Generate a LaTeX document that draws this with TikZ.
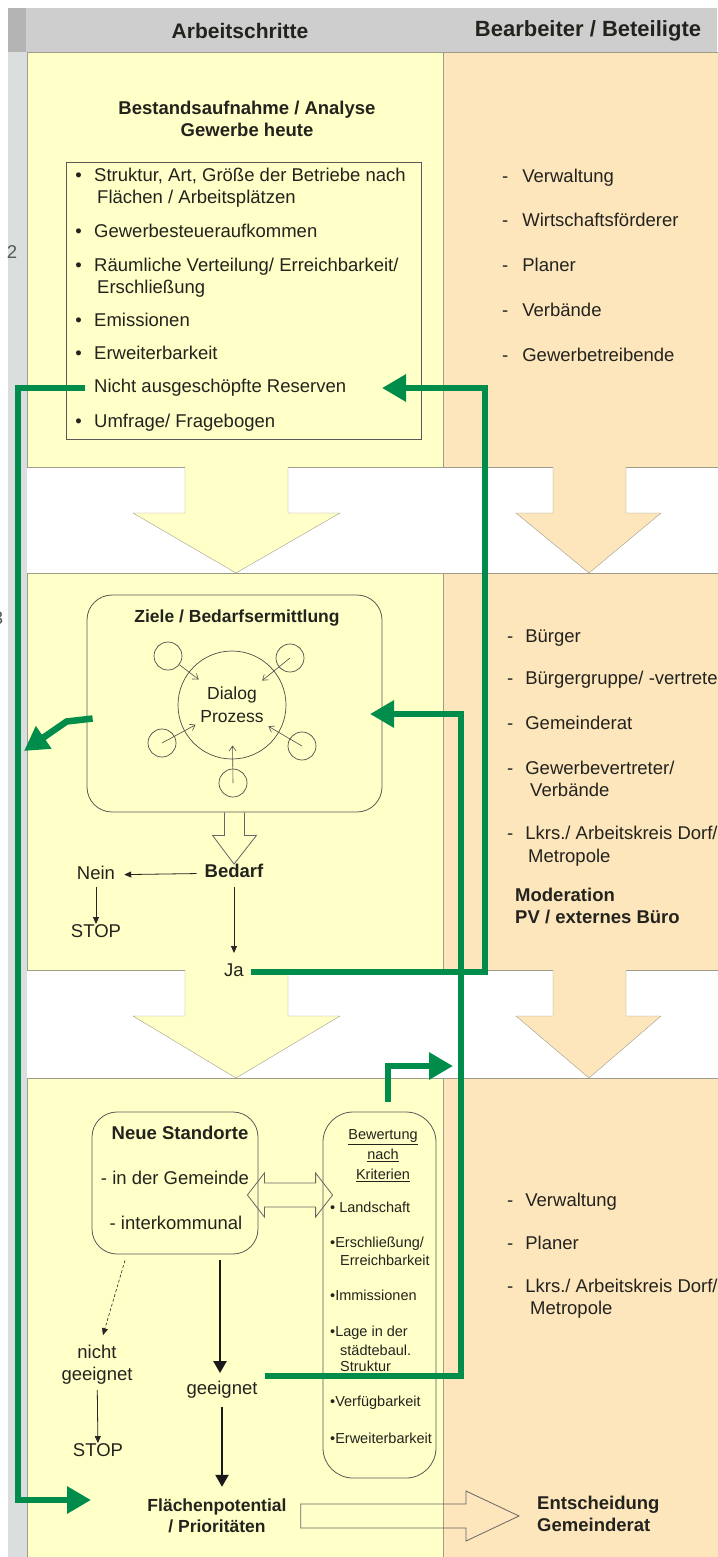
\documentclass[tikz,border=0pt]{standalone}
\usepackage{fontspec}
\setmainfont{Liberation Sans}
\usetikzlibrary{arrows.meta,calc}

\definecolor{gelb}{RGB}{255,255,200}
\definecolor{beige}{RGB}{253,229,188}
\definecolor{kopf}{RGB}{206,206,206}
\definecolor{kopfdunkel}{RGB}{180,180,180}
\definecolor{rand}{RGB}{218,222,222}
\definecolor{linie}{RGB}{160,156,140}
\definecolor{gruen}{RGB}{0,140,75}
\definecolor{schrift}{RGB}{35,35,30}

\tikzset{
  txt/.style={font=\fontsize{18.5}{22}\selectfont, text=schrift, inner sep=0pt},
  fett/.style={txt, font=\fontsize{18.5}{22}\selectfont\bfseries},
  klein/.style={font=\fontsize{14.5}{18}\selectfont, text=schrift, inner sep=0pt},
  kopftext/.style={font=\fontsize{21}{25}\selectfont\bfseries, text=schrift, inner sep=0pt},
  zeile/.style={text height=13.5pt, text depth=4pt},
  kzeile/.style={klein, anchor=west, text height=10.5pt, text depth=3pt},
  links/.style={anchor=west},
  punkt/.style={label={[txt,xshift=-12pt]left:\textbullet}},
  liste/.style={draw=black!65, line width=0.8pt, inner sep=0pt},
  kasten/.style={draw=black!65, line width=0.8pt, rounded corners=25pt, inner sep=0pt},
  hohl/.style={draw=black!60, line width=0.8pt},
  pfeil/.style={-{Triangle[length=7pt,width=6pt]}, line width=0.8pt, draw=black!85},
  dickpfeil/.style={-{Triangle[length=12pt,width=13pt]}, line width=2.5pt, draw=black!90},
  zupfeil/.style={-{Straight Barb[length=5pt,width=7pt]}, line width=0.6pt, draw=black!70},
  flow/.style={draw=gruen, line width=6.5pt, -{Triangle[length=24pt,width=26pt]}},
}

\begin{document}
\begin{tikzpicture}[x=1pt,y=-1pt]
\useasboundingbox (0,0) rectangle (717,1557);

%\draw [help lines] (0,0) grid (717,1557);

% Kopf, Rand und Spalten
\fill[kopf] (8,8) rectangle (717,52);
\fill[kopfdunkel] (8,8) rectangle (26,52);
\fill[rand] (8,52) rectangle (27,1557);
\foreach \o/\u in {52/467,573/970,1078/1565}{
  \filldraw[fill=gelb,draw=linie] (27,\o) rectangle (443,\u);
  \filldraw[fill=beige,draw=linie] (443,\o) rectangle (730,\u);
}
\foreach \o/\u in {467/573,970/1078}{
  \fill[gelb] (185,\o-1) -- (185,\o+46) -- (133,\o+46) -- (236,\u) -- (340,\o+46) -- (288,\o+46) -- (288,\o-1) -- cycle;
  \draw[linie] (185,\o) -- (185,\o+46) -- (133,\o+46) -- (236,\u) -- (340,\o+46) -- (288,\o+46) -- (288,\o);
  \fill[beige] (553,\o-1) -- (553,\o+46) -- (516,\o+46) -- (589,\u) -- (661,\o+46) -- (626,\o+46) -- (626,\o-1) -- cycle;
  \draw[linie] (553,\o) -- (553,\o+46) -- (516,\o+46) -- (589,\u) -- (661,\o+46) -- (626,\o+46) -- (626,\o);
}

\node[kopftext] (kopf1) at (240,31) {Arbeitschritte};
\node[kopftext, font=\fontsize{22}{26}\selectfont\bfseries] (kopf2) at (588,31) {Bearbeiter / Beteiligte};
\node[txt, text=black!65] (nr2) at (12,252) {2};
\node[txt, text=black!65] (nr3) at (-2,618) {3};

% Bestandsaufnahme
\node[fett, align=center] (bestand) at (247,119) {Bestandsaufnahme / Analyse\\Gewerbe heute};
\node[liste, minimum width=355pt, minimum height=277pt] (liste) at (243.5,300.5) {};
\path (94,177) node[txt,zeile,links,punkt] (s1) {Struktur, Art, Größe der Betriebe nach}
      (97,199) node[txt,zeile,links] (s1b) {Flächen / Arbeitsplätzen}
      (94,233) node[txt,zeile,links,punkt] (s2) {Gewerbesteueraufkommen}
      (94,267) node[txt,zeile,links,punkt] (s3) {Räumliche Verteilung/ Erreichbarkeit/}
      (97,289) node[txt,zeile,links] (s3b) {Erschließung}
      (94,322) node[txt,zeile,links,punkt] (s4) {Emissionen}
      (94,355) node[txt,zeile,links,punkt] (s5) {Erweiterbarkeit}
      (94,388) node[txt,zeile,links] (res) {Nicht ausgeschöpfte Reserven}
      (94,423) node[txt,zeile,links,punkt] (s7) {Umfrage/ Fragebogen};

\path (502,178) node[txt,zeile,links] (b1) {-\hspace{14pt}Verwaltung}
      (502,222) node[txt,zeile,links] (b2) {-\hspace{14pt}Wirtschaftsförderer}
      (502,267) node[txt,zeile,links] (b3) {-\hspace{14pt}Planer}
      (502,312) node[txt,zeile,links] (b4) {-\hspace{14pt}Verbände}
      (502,357) node[txt,zeile,links] (b5) {-\hspace{14pt}Gewerbetreibende};

% Ziele / Bedarf
\node[kasten, minimum width=295pt, minimum height=217pt] (ziele) at (234.5,703.5) {};
\node[fett, font=\fontsize{17.5}{21}\selectfont\bfseries] (zieltitel) at (237,618) {Ziele / Bedarfsermittlung};
\node[circle, draw=black!70, line width=0.7pt, minimum size=108pt, align=center, inner sep=0pt,
      font=\fontsize{17.5}{23}\selectfont, text=schrift] (dialog) at (232,705) {Dialog\\Prozess};
\foreach \n/\x/\y in {k1/168/656, k2/290/658, k3/162/743, k4/302/746, k5/233/783}
  \node[circle, draw=black!70, line width=0.7pt, minimum size=28pt, inner sep=0pt] (\n) at (\x,\y) {};
\foreach \k/\s in {k1/k1, k2/k2.center, k3/k3.center, k4/k4.center, k5/k5.center}
  \draw[zupfeil] (\s) -- ($(\k)!0.48!(dialog.center)$);

\node[fett,zeile] (bedarf) at (234,873) {Bedarf};
\node[txt,zeile] (nein) at (96,875) {Nein};
\node[txt,zeile] (stop1) at (96,933) {STOP};
\node[txt,zeile] (ja) at (234,972) {Ja};

\draw[hohl] ($(ziele.south)+(-10,0)$) -- ++(0,23) -- ++(-12,0) -- (bedarf.north)
            -- ($(ziele.south)+(22,23)$) -- ++(-12,0) -- ++(0,-23);
\draw[pfeil, shorten <=8pt, shorten >=9pt] (bedarf) -- (nein);
\draw[pfeil, shorten <=3pt] (nein) -- (stop1);
\draw[pfeil, shorten <=5pt, shorten >=10pt] (bedarf) -- (ja);

\path (507,638) node[txt,zeile,links] (c1) {-\hspace{12pt}Bürger}
      (507,680) node[txt,zeile,links] (c2) {-\hspace{12pt}Bürgergruppe/ -vertreter}
      (507,725) node[txt,zeile,links] (c3) {-\hspace{12pt}Gemeinderat}
      (507,770) node[txt,zeile,links] (c4) {-\hspace{12pt}Gewerbevertreter/}
      (530,792) node[txt,zeile,links] (c4b) {Verbände}
      (507,835) node[txt,zeile,links] (c5) {-\hspace{12pt}Lkrs./ Arbeitskreis Dorf/}
      (528,858) node[txt,zeile,links] (c5b) {Metropole};
\node[fett, align=left, links] (moderation) at (515,906) {Moderation\\PV / externes Büro};

% Neue Standorte / Bewertung
\node[kasten, minimum width=166pt, minimum height=142pt] (ns) at (175,1183) {};
\node[fett,zeile] (nstitel) at (180,1135) {Neue Standorte};
\node[txt,zeile] (ns1) at (175,1180) {- in der Gemeinde};
\node[txt,zeile] (ns2) at (176,1225) {- interkommunal};

\node[kasten, rounded corners=30pt, minimum width=113pt, minimum height=366pt] (bew) at (379.5,1295) {};
\node[klein, align=center, font=\fontsize{14.5}{20}\selectfont] (bewtitel) at (383,1156)
     {\underline{Bewertung}\\\underline{nach}\\\underline{Kriterien}};
\path (330,1209) node[kzeile] (k1t) {• Landschaft}
      (330,1244) node[kzeile] (k2t) {•Erschließung/}
      (340,1262) node[kzeile] (k2b) {Erreichbarkeit}
      (330,1297) node[kzeile] (k3t) {•Immissionen}
      (330,1333) node[kzeile] (k4t) {•Lage in der}
      (340,1352) node[kzeile] (k4b) {städtebaul.}
      (340,1368) node[kzeile] (k4c) {Struktur}
      (330,1403) node[kzeile] (k5t) {•Verfügbarkeit}
      (330,1440) node[kzeile] (k6t) {•Erweiterbarkeit};

\coordinate (dL) at ($(ns.east)+(-11,12)$);
\coordinate (dR) at ($(dL -| bew.west)+(10,0)$);
\draw[hohl] (dL) -- ++(17,-22) -- ++(0,10) -- ($(dR)+(-17,-12)$) -- ++(0,-10) -- (dR)
            -- ++(-17,22) -- ++(0,-10) -- ($(dL)+(17,12)$) -- ++(0,10) -- cycle;

\node[txt, align=center] (nicht) at (97,1365) {nicht\\geeignet};
\node[txt,zeile] (stop2) at (98,1452) {STOP};
\node[txt,zeile] (gee) at (222,1390) {geeignet};
\node[fett, align=center, font=\fontsize{17.5}{21}\selectfont\bfseries] (fp) at (217,1516) {Flächenpotential\\/ Prioritäten};
\node[fett, align=left, links] (ent) at (537,1514) {Entscheidung\\Gemeinderat};

\draw[pfeil, densely dashed, line width=0.6pt] ($(ns.south)+(-50,6)$) -- ($(nicht.north)+(6,-10)$);
\draw[pfeil, shorten <=5pt] (nicht) -- (stop2);
\draw[dickpfeil] ($(gee.north |- ns.south)+(-2,6)$) -- ($(gee.north)+(-2,-8)$);
\draw[dickpfeil, shorten <=8pt, shorten >=12pt] (gee) -- (gee |- fp.north);

\coordinate (fspitze) at ($(fp.east -| ent.west)+(-18,0)$);
\draw[hohl] ($(fp.east)+(14,-12)$) -- ($(fspitze)+(-53,-12)$) -- ++(0,-13) -- (fspitze)
            -- ++(-53,25) -- ++(0,-13) -- ($(fp.east)+(14,12)$) -- cycle;

\path (507,1202) node[txt,zeile,links] (d1) {-\hspace{12pt}Verwaltung}
      (507,1245) node[txt,zeile,links] (d2) {-\hspace{12pt}Planer}
      (507,1288) node[txt,zeile,links] (d3) {-\hspace{12pt}Lkrs./ Arbeitskreis Dorf/}
      (530,1310) node[txt,zeile,links] (d3b) {Metropole};

% gruene Rueckkopplungen
\coordinate (resIn) at (382,388);
\coordinate (schieneA) at (485,388);
\coordinate (dialogIn) at (370,714);
\coordinate (schieneB) at (461,714);
\coordinate (bewOut) at (453,1066);
\coordinate (schieneL) at (18,1500);
\coordinate (flIn) at (91,1500);
\coordinate (zOut) at (24,751);

\draw[flow] ([xshift=7pt]ja.east) -| (schieneA) -- (resIn);
\draw[flow] ([xshift=7pt,yshift=14pt]gee.east) -| (schieneB) -- (dialogIn);
\draw[flow] ([xshift=8.5pt,yshift=10pt]bew.north) |- (bewOut);
\draw[flow] ([xshift=-9pt]res.west) -| (schieneL) -- (flIn);
\draw[flow] ([xshift=6pt,yshift=-15pt]ziele.west) -- ++(-26,3) -- (zOut);

\end{tikzpicture}
\end{document}
